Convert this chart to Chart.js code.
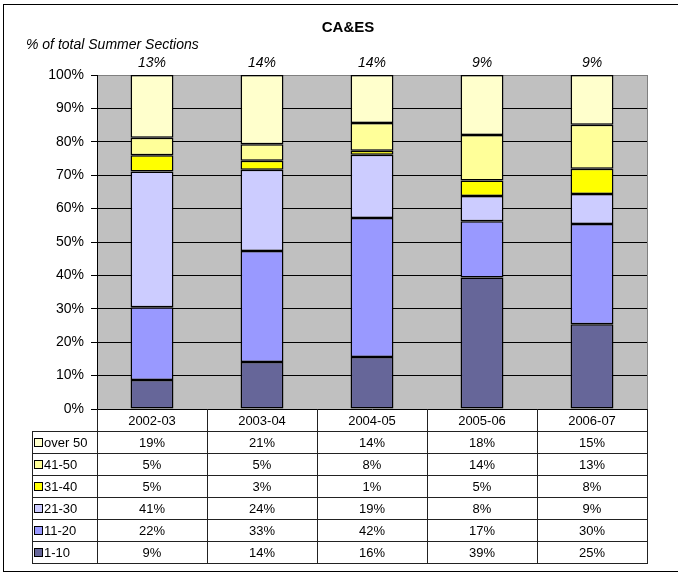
<!DOCTYPE html>
<html>
<head>
<meta charset="utf-8">
<script src="https://cdn.jsdelivr.net/npm/chart.js@4"></script>
<style>
  html, body { margin: 0; padding: 0; background: #fff; }
  canvas { display: block; }
</style>
</head>
<body>
<canvas id="chart" width="678" height="572"></canvas>
<script>
const years = ['2002-03', '2003-04', '2004-05', '2005-06', '2006-07'];
const shareOfTotal = ['13%', '14%', '14%', '9%', '9%'];

// class size bands, bottom of the stack first
const bands = ['1-10', '11-20', '21-30', '31-40', '41-50', 'over 50'];
const size1to10  = [8.7, 14.1, 15.6, 39.4, 25.4];
const size11to20 = [21.8, 33.2, 41.6, 16.8, 30.0];
const size21to30 = [40.6, 24.3, 18.9, 7.6, 9.0];
const size31to40 = [4.9, 2.7, 1.2, 4.6, 7.5];
const size41to50 = [5.2, 5.0, 8.3, 13.6, 13.2];
const sizeOver50 = [18.8, 20.7, 14.4, 18.0, 14.9];
const yTicks = [0, 10, 20, 30, 40, 50, 60, 70, 80, 90, 100];

const bandValues = [size1to10, size11to20, size21to30, size31to40, size41to50, sizeOver50];
const bandColors = ['#666699', '#9999ff', '#ccccff', '#ffff00', '#ffff99', '#ffffcc'];

const FONT = '"Liberation Sans", Arial, sans-serif';
const ROW_H = 22;
const TABLE_LEFT = 32;

const framePlugin = {
    id: 'frame',
    beforeDraw(chart) {
        const { ctx, chartArea: a } = chart;
        ctx.save();
        ctx.fillStyle = '#fff';
        ctx.fillRect(0, 0, chart.width, chart.height);
        ctx.fillStyle = '#c0c0c0';
        ctx.fillRect(a.left, a.top, a.right - a.left, a.bottom - a.top);
        ctx.restore();
    },
    beforeDatasetsDraw(chart) {
        const { ctx, chartArea: a } = chart;
        ctx.save();
        ctx.strokeStyle = '#808080';
        ctx.lineWidth = 1;
        ctx.beginPath();
        ctx.moveTo(a.right + 0.5, a.top);
        ctx.lineTo(a.right + 0.5, a.bottom);
        ctx.stroke();
        ctx.restore();
    },
    afterDraw(chart) {
        const { ctx, chartArea: a } = chart;
        const xs = chart.scales.x;
        ctx.save();

        // outer border (right edge runs off the picture)
        ctx.strokeStyle = '#000';
        ctx.lineWidth = 1;
        ctx.strokeRect(3.5, 4.5, 690, 567);

        // title + subtitle
        ctx.fillStyle = '#000';
        ctx.textAlign = 'center';
        ctx.textBaseline = 'alphabetic';
        ctx.font = 'bold 15px ' + FONT;
        ctx.fillText('CA&ES', 348, 32);
        ctx.textAlign = 'left';
        ctx.font = 'italic 14px ' + FONT;
        ctx.fillText('% of total Summer Sections', 26, 49);

        // share of total above each bar
        ctx.textAlign = 'center';
        years.forEach((y, i) => {
            ctx.fillText(shareOfTotal[i], xs.getPixelForValue(i), 67);
        });

        // data table
        const colW = (a.right - a.left) / years.length;
        const top = a.bottom;
        const rows = bands.slice().reverse();
        const bottom = top + ROW_H * (rows.length + 1);
        ctx.strokeStyle = '#222';
        ctx.beginPath();
        for (let r = 1; r <= rows.length + 1; r++) {
            const yy = Math.round(top + r * ROW_H) + 0.5;
            ctx.moveTo(TABLE_LEFT, yy);
            ctx.lineTo(a.right + 1, yy);
        }
        ctx.moveTo(TABLE_LEFT + 0.5, top + ROW_H);
        ctx.lineTo(TABLE_LEFT + 0.5, bottom);
        for (let c = 0; c <= years.length; c++) {
            const xx = Math.round(a.left + c * colW) + 0.5;
            ctx.moveTo(xx, top);
            ctx.lineTo(xx, bottom);
        }
        ctx.stroke();

        ctx.font = '13px ' + FONT;
        ctx.textBaseline = 'middle';
        ctx.fillStyle = '#000';
        years.forEach((y, i) => {
            ctx.fillText(y, xs.getPixelForValue(i), top + ROW_H / 2 + 1);
        });
        rows.forEach((band, r) => {
            const k = bands.indexOf(band);
            const cy = top + (r + 1) * ROW_H + ROW_H / 2 + 1;
            ctx.fillStyle = bandColors[k];
            ctx.fillRect(34.5, cy - 4.5, 8, 8);
            ctx.strokeStyle = '#000';
            ctx.strokeRect(34.5, cy - 4.5, 8, 8);
            ctx.fillStyle = '#000';
            ctx.textAlign = 'left';
            ctx.fillText(band, 44, cy);
            ctx.textAlign = 'center';
            bandValues[k].forEach((v, i) => {
                ctx.fillText(Math.round(v) + '%', xs.getPixelForValue(i), cy);
            });
        });
        ctx.restore();
    }
};

new Chart(document.getElementById('chart'), {
    type: 'bar',
    data: {
        labels: years,
        datasets: bands.map((b, k) => ({
            label: b,
            data: bandValues[k],
            backgroundColor: bandColors[k],
            borderColor: '#000',
            borderWidth: 1.5,
            borderSkipped: false,
            categoryPercentage: 1,
            barPercentage: 0.39
        }))
    },
    options: {
        responsive: false,
        animation: false,
        layout: { padding: { top: 75, right: 31, bottom: 163, left: 0 } },
        plugins: { legend: { display: false }, tooltip: { enabled: false } },
        scales: {
            x: { stacked: true, display: false },
            y: {
                stacked: true,
                min: 0,
                max: 100,
                afterFit: (s) => { s.width = 97; },
                afterBuildTicks: (s) => { s.ticks = yTicks.map(v => ({ value: v })); },
                ticks: {
                    color: '#000',
                    padding: 7,
                    font: { family: FONT, size: 14 },
                    callback: (v) => v + '%'
                },
                grid: {
                    color: (c) => (c.tick && c.tick.value === 100 ? '#808080' : '#000'),
                    tickColor: '#000',
                    tickLength: 6,
                    lineWidth: 1
                },
                border: { color: '#000', width: 1 }
            }
        }
    },
    plugins: [framePlugin]
});
</script>
</body>
</html>
